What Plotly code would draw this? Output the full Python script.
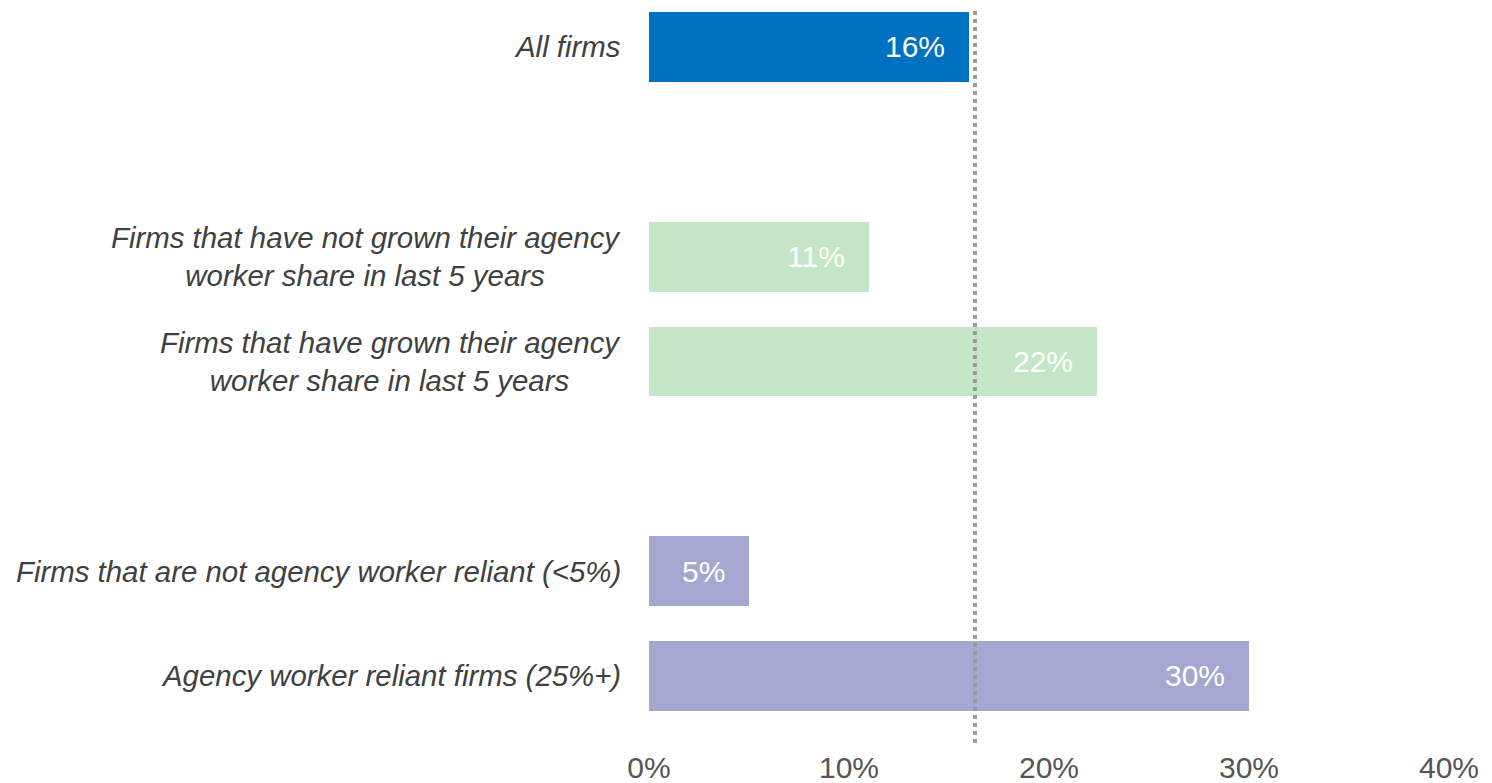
import plotly.graph_objects as go

# ---- data ----
categories = [
    "All firms",
    "Firms that have not grown their agency<br>worker share in last 5 years",
    "Firms that have grown their agency<br>worker share in last 5 years",
    "Firms that are not agency worker reliant (<5%)",
    "Agency worker reliant firms (25%+)",
]
values = [16, 11, 22.4, 5, 30]
value_labels = ["16%", "11%", "22%", "5%", "30%"]
bar_colors = ["#0070C0", "#C5E6C6", "#C5E6C6", "#A5A7D0", "#A5A7D0"]
average_value = 16.3
x_ticks = [0, 10, 20, 30, 40]
x_tick_labels = ["0%", "10%", "20%", "30%", "40%"]

# category order with blank spacer rows between groups
category_order = [categories[0], " ", categories[1], categories[2], "  ", categories[3], categories[4]]

FONT = "Arial, 'Liberation Sans', sans-serif"

fig = go.Figure()
fig.add_trace(go.Bar(
    x=values,
    y=categories,
    orientation="h",
    marker=dict(color=bar_colors, line=dict(width=0)),
    width=0.667,
    hoverinfo="skip",
))

# category labels (centered multi-line, right aligned block)
for cat in categories:
    fig.add_annotation(
        x=0, xref="paper", y=cat, yref="y",
        text="<i>" + cat.replace("<br>", "</i><br><i>") + "</i>",
        showarrow=False,
        xanchor="right", yanchor="middle", align="center",
        xshift=-26,
        font=dict(family=FONT, size=29.4, color="#404040"),
    )

# value labels inside bar ends
for cat, v, lab in zip(categories, values, value_labels):
    fig.add_annotation(
        x=v, xref="x", y=cat, yref="y",
        text=lab, showarrow=False,
        xanchor="right", yanchor="middle",
        xshift=-22,
        font=dict(family=FONT, size=30, color="white"),
    )

# average dotted line
fig.add_shape(
    type="line", xref="x", yref="paper",
    x0=average_value, x1=average_value, y0=0, y1=0.998,
    line=dict(color="#9A9A9A", width=4, dash="dot"),
)

fig.update_layout(
    width=1484, height=775,
    margin=dict(l=641, r=43, t=0, b=40),
    plot_bgcolor="white", paper_bgcolor="white",
    showlegend=False,
    bargap=0,
    font=dict(family=FONT),
)
fig.update_xaxes(
    range=[0, 40], tickvals=x_ticks, ticktext=x_tick_labels,
    showgrid=False, zeroline=False, showline=False, ticks="",
    ticklabelstandoff=4,
    tickfont=dict(family=FONT, size=30, color="#555555"),
)
fig.update_yaxes(
    type="category", categoryorder="array", categoryarray=category_order,
    range=[6.64, -0.372], showticklabels=False, showgrid=False,
    zeroline=False, showline=False, ticks="",
)

fig.write_html("out.html")
